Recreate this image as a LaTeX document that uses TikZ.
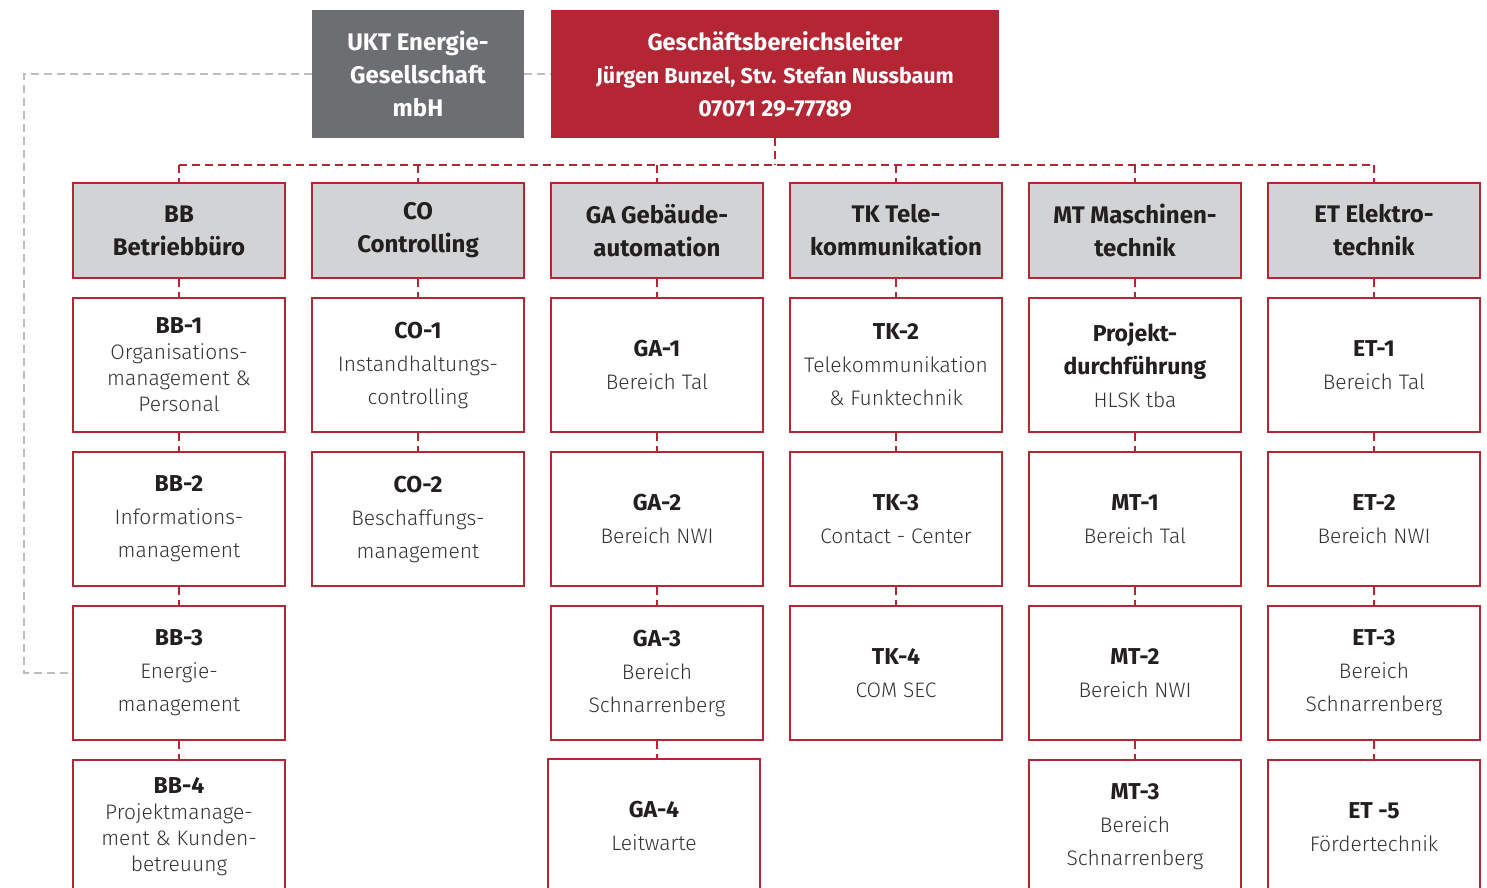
\documentclass[tikz,border=0pt]{standalone}
\usepackage{fontspec}
\setmainfont{Fira Sans}
\newfontfamily\lightfont{Fira Sans Light}
\definecolor{uktred}{HTML}{B52634}
\definecolor{uktgray}{HTML}{6D6E71}
\definecolor{headgray}{HTML}{D1D3D4}
\definecolor{linegray}{HTML}{BCBEC0}
\definecolor{textdark}{HTML}{231F20}
\definecolor{textgray}{HTML}{333335}
\tikzset{
  box/.style={draw=uktred, line width=2.5pt, minimum width=212pt, inner sep=2pt, align=center},
  headbox/.style={box, fill=headgray, minimum height=95pt, text=textdark,
    font=\bfseries\fontsize{24}{33}\selectfont},
  unitbox/.style={box, fill=white, minimum height=134pt, text=textgray,
    font=\lightfont\fontsize{21}{33}\selectfont},
  tightbox/.style={font=\lightfont\fontsize{21}{26}\selectfont},
  topbox/.style={minimum height=128pt, inner sep=2pt, align=center, text=white},
  link/.style={uktred, line width=2.5pt, dash pattern=on 8pt off 5pt},
  graylink/.style={linegray, line width=2.5pt, dash pattern=on 8pt off 5pt},
}
\newcommand{\unitname}[1]{{\normalfont\bfseries\fontsize{23}{26}\selectfont\color{textdark}#1}}
\begin{document}
\begin{tikzpicture}[x=1pt, y=-1pt]
  \useasboundingbox (0,0) rectangle (1487,887);
  \clip (0,0) rectangle (1487,887);

  % Top boxes
  \node[topbox, fill=uktgray, minimum width=212pt, font=\bfseries\fontsize{24}{33}\selectfont]
    (ukt) at (418,74) {UKT Energie-\\Gesellschaft\\mbH};
  \node[topbox, fill=uktred, minimum width=448pt, font=\bfseries\fontsize{21.5}{33}\selectfont]
    (gbl) at (775,74) {{\fontsize{23.5}{33}\selectfont Geschäftsbereichsleiter}\\Jürgen Bunzel, Stv. Stefan Nussbaum\\{\fontsize{23}{33}\selectfont 07071 29-77789}};

  % Department heads
  \node[headbox] (bb) at (179,230.5) {BB\\Betriebbüro};
  \node[headbox] (co) at (418,230.5) {CO\\Controlling};
  \node[headbox] (ga) at (657,230.5) {GA Gebäude-\\automation};
  \node[headbox] (tk) at (896,230.5) {TK Tele-\\kommunikation};
  \node[headbox] (mt) at (1135,230.5) {MT Maschinen-\\technik};
  \node[headbox] (et) at (1374,230.5) {ET Elektro-\\technik};

  % BB units
  \node[unitbox, tightbox] (bb1) at (179,365) {\unitname{BB-1}\\Organisations-\\management \&\\Personal};
  \node[unitbox] (bb2) at (179,519) {\unitname{BB-2}\\Informations-\\management};
  \node[unitbox] (bb3) at (179,673) {\unitname{BB-3}\\Energie-\\management};
  \node[unitbox, tightbox] (bb4) at (179,827) {\unitname{BB-4}\\Projektmanage-\\ment \& Kunden-\\betreuung};

  % CO units
  \node[unitbox] (co1) at (418,365) {\unitname{CO-1}\\Instandhaltungs-\\controlling};
  \node[unitbox] (co2) at (418,519) {\unitname{CO-2}\\Beschaffungs-\\management};

  % GA units
  \node[unitbox] (ga1) at (657,365) {\unitname{GA-1}\\Bereich Tal};
  \node[unitbox] (ga2) at (657,519) {\unitname{GA-2}\\Bereich NWI};
  \node[unitbox] (ga3) at (657,673) {\unitname{GA-3}\\Bereich\\Schnarrenberg};
  \node[unitbox] (ga4) at (654,826) {\unitname{GA-4}\\Leitwarte};

  % TK units
  \node[unitbox] (tk2) at (896,365) {\unitname{TK-2}\\Telekommunikation\\\& Funktechnik};
  \node[unitbox] (tk3) at (896,519) {\unitname{TK-3}\\Contact - Center};
  \node[unitbox] (tk4) at (896,673) {\unitname{TK-4}\\COM SEC};

  % MT units
  \node[unitbox] (mt0) at (1135,365) {\unitname{Projekt-}\\\unitname{durchführung}\\HLSK tba};
  \node[unitbox] (mt1) at (1135,519) {\unitname{MT-1}\\Bereich Tal};
  \node[unitbox] (mt2) at (1135,673) {\unitname{MT-2}\\Bereich NWI};
  \node[unitbox] (mt3) at (1135,827) {\unitname{MT-3}\\Bereich\\Schnarrenberg};

  % ET units
  \node[unitbox] (et1) at (1374,365) {\unitname{ET-1}\\Bereich Tal};
  \node[unitbox] (et2) at (1374,519) {\unitname{ET-2}\\Bereich NWI};
  \node[unitbox] (et3) at (1374,673) {\unitname{ET-3}\\Bereich\\Schnarrenberg};
  \node[unitbox] (et5) at (1374,827) {\unitname{ET -5}\\Fördertechnik};

  % Gray links to the UKT company
  \coordinate (loop) at (24,0);
  \draw[graylink] (ukt.east) -- (gbl.west);
  \draw[graylink] (ukt.west) -- (ukt.west -| loop) |- (bb3.west);

  % Red bus from the head of division
  \coordinate (bus) at (0,165);
  \draw[link] (gbl.south) -- (gbl.south |- bus);
  \draw[link] (bb.north |- bus) -- (et.north |- bus);
  \foreach \h in {bb,co,ga,tk,mt,et}
    \draw[link] (\h.north |- bus) -- (\h.north);

  % Links inside the columns
  \draw[link] (bb.south) -- (bb1.north);
  \draw[link] (bb1.south) -- (bb2.north);
  \draw[link] (bb2.south) -- (bb3.north);
  \draw[link] (bb3.south) -- (bb4.north);
  \draw[link] (co.south) -- (co1.north);
  \draw[link] (co1.south) -- (co2.north);
  \draw[link] (ga.south) -- (ga1.north);
  \draw[link] (ga1.south) -- (ga2.north);
  \draw[link] (ga2.south) -- (ga3.north);
  \draw[link] (ga3.south) -- (ga3.south |- ga4.north);
  \draw[link] (tk.south) -- (tk2.north);
  \draw[link] (tk2.south) -- (tk3.north);
  \draw[link] (tk3.south) -- (tk4.north);
  \draw[link] (mt.south) -- (mt0.north);
  \draw[link] (mt0.south) -- (mt1.north);
  \draw[link] (mt1.south) -- (mt2.north);
  \draw[link] (mt2.south) -- (mt3.north);
  \draw[link] (et.south) -- (et1.north);
  \draw[link] (et1.south) -- (et2.north);
  \draw[link] (et2.south) -- (et3.north);
  \draw[link] (et3.south) -- (et5.north);
\end{tikzpicture}
\end{document}
